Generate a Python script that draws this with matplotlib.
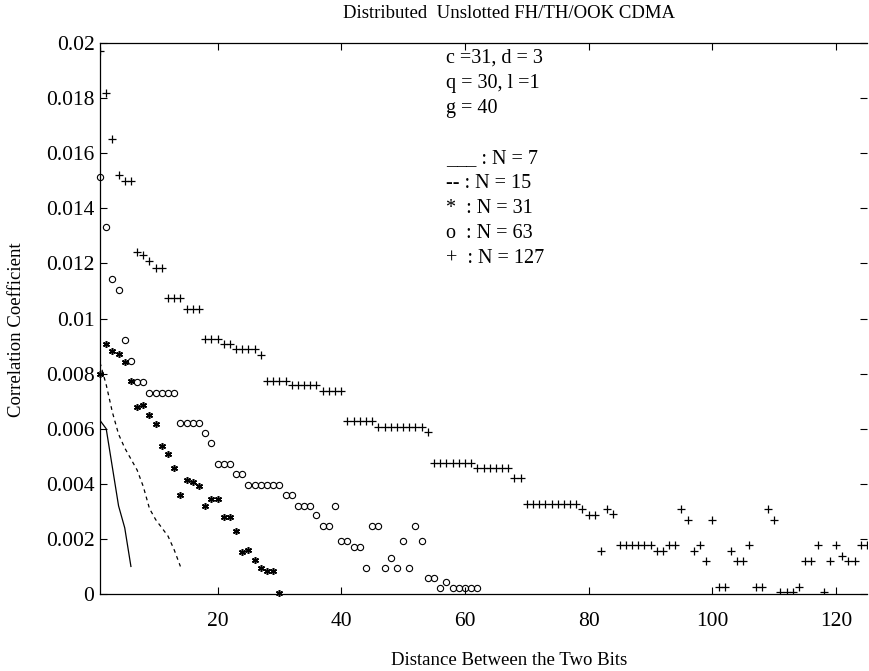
import matplotlib
matplotlib.use('Agg')
import matplotlib.pyplot as plt
from matplotlib.ticker import FuncFormatter

# distances (bits) and correlation coefficients
x_n7 = [1, 2, 3, 4, 5, 6]
y_n7 = [0.0063, 0.0060, 0.0046, 0.0032, 0.0024, 0.0010]

x_n15 = list(range(1, 15))
y_n15 = [0.0084, 0.0076, 0.0066, 0.0058, 0.0053, 0.0049, 0.0045,
         0.0039, 0.0031, 0.0027, 0.0024, 0.0021, 0.0016, 0.0010]

x_n31 = list(range(1, 31))
y_n31 = [0.0080, 0.00909, 0.00882, 0.0087, 0.00842, 0.00772, 0.00678, 0.00685,
         0.00648, 0.00616, 0.00536, 0.00507, 0.00458, 0.00361, 0.00412,
         0.00406, 0.00391, 0.00321, 0.00345, 0.00345, 0.00281, 0.00281,
         0.0023, 0.00151, 0.00161, 0.00124, 0.00093, 0.00085, 0.00085, 0.00002]

x_n63 = list(range(1, 63))
y_n63 = [0.01515, 0.01333, 0.01142, 0.01105, 0.00921, 0.00846, 0.00769, 0.00769,
         0.00731, 0.00731, 0.00731, 0.00731, 0.00731,
         0.0062, 0.0062, 0.0062, 0.0062, 0.00585, 0.00549,
         0.00473, 0.00473, 0.00473, 0.00436, 0.00436,
         0.00397, 0.00397, 0.00397, 0.00397, 0.00397, 0.00397,
         0.0036, 0.0036, 0.00321, 0.00321, 0.00321, 0.00285, 0.00246, 0.00246,
         0.00321, 0.00191, 0.00191, 0.00172, 0.00172, 0.00095, 0.00246, 0.00246,
         0.00095, 0.00131, 0.00095, 0.00191, 0.00095, 0.00246, 0.00191,
         0.00058, 0.00058, 0.0002, 0.00042,
         0.0002, 0.0002, 0.0002, 0.0002, 0.0002]

x_n127 = list(range(1, 126))
y_n127 = [0.0197, 0.0182, 0.0165, 0.0152, 0.0150, 0.0150,
          0.01242, 0.0123, 0.0121, 0.01185, 0.01185,
          0.01073, 0.01073, 0.01073, 0.01036, 0.01036, 0.01036,
          0.00925, 0.00925, 0.00925, 0.00906, 0.00906,
          0.00888, 0.00888, 0.00888, 0.00888, 0.00869,
          0.00773, 0.00773, 0.00773, 0.00773,
          0.00757, 0.00757, 0.00757, 0.00757, 0.00757,
          0.00737, 0.00737, 0.00737, 0.00737,
          0.00627, 0.00627, 0.00627, 0.00627, 0.00627,
          0.00606, 0.00606, 0.00606, 0.00606, 0.00606, 0.00606, 0.00606, 0.00606,
          0.00588,
          0.00476, 0.00476, 0.00476, 0.00476, 0.00476, 0.00476, 0.00476,
          0.00458, 0.00458, 0.00458, 0.00458, 0.00458, 0.00458,
          0.0042, 0.0042,
          0.00327, 0.00327, 0.00327, 0.00327, 0.00327, 0.00327, 0.00327, 0.00327, 0.00327,
          0.00309, 0.00288, 0.00288, 0.00157, 0.00309, 0.00291,
          0.00178, 0.00178, 0.00178, 0.00178, 0.00178, 0.00178,
          0.00157, 0.00157, 0.00178, 0.00178,
          0.00309, 0.0027, 0.00157, 0.00178, 0.00121, 0.0027,
          0.00024, 0.00024, 0.00157, 0.00121, 0.00121, 0.00178,
          0.00027, 0.00027, 0.00309, 0.0027,
          0.00006, 0.00006, 0.00006, 0.00027, 0.00121, 0.00121, 0.00178,
          0.00006, 0.00121, 0.00178, 0.00139, 0.00121, 0.00121, 0.00178, 0.00178]

notes = ['c =31, d = 3', 'q = 30, l =1', 'g = 40', '',
         '___ : N = 7', '-- : N = 15', '*  : N = 31', 'o  : N = 63', '+  : N = 127']

plt.rcParams['font.family'] = ['Liberation Serif', 'DejaVu Serif']

fig = plt.figure(figsize=(8.69, 6.71), dpi=100)
ax = fig.add_axes([100 / 869, 77 / 671, 767 / 869, 551 / 671])

ax.plot(x_n7, y_n7, '-', color='k', lw=0.9)
ax.plot(x_n15, y_n15, '--', color='k', lw=0.9, dashes=(3, 3))
ax.plot(x_n31, y_n31, ls='none', marker=(6, 2, 0), ms=5, mew=1.1, color='k', clip_on=False)
ax.plot(x_n63, y_n63, ls='none', marker='o', ms=4.5, mfc='none', mew=0.8, color='k', clip_on=False)
ax.plot(x_n127, y_n127, ls='none', marker='+', ms=5.5, mew=0.9, color='k')

ax.set_xlim(1, 125)
ax.set_ylim(0, 0.02)
ax.set_xticks([20, 40, 60, 80, 100, 120])
ax.set_yticks([i * 0.002 for i in range(11)])
ax.yaxis.set_major_formatter(FuncFormatter(lambda v, p: '%g' % round(v, 4)))
ax.tick_params(direction='in', top=True, right=True, length=5, width=0.8, labelsize=15.5)
ax.tick_params(axis='x', pad=13)
ax.tick_params(axis='y', pad=4)
ax.spines['right'].set_visible(False)
for s in ['left', 'bottom', 'top']:
    ax.spines[s].set_linewidth(0.9)

for i, t in enumerate(notes):
    ax.text(0.451, 0.972 - i * 0.0455, t, transform=ax.transAxes, fontsize=14.5, va='center', ha='left')

fig.text(509 / 869, 1 - 14 / 671, 'Distributed  Unslotted FH/TH/OOK CDMA', fontsize=13.5,
         ha='center', va='center')
ax.set_xlabel('Distance Between the Two Bits', fontsize=13.5)
ax.xaxis.set_label_coords(0.533, -0.105)
ax.set_ylabel('Correlation Coefficient', fontsize=13.5)
ax.yaxis.set_label_coords(-0.098, 0.48)

fig.savefig('out.png', dpi=100)
